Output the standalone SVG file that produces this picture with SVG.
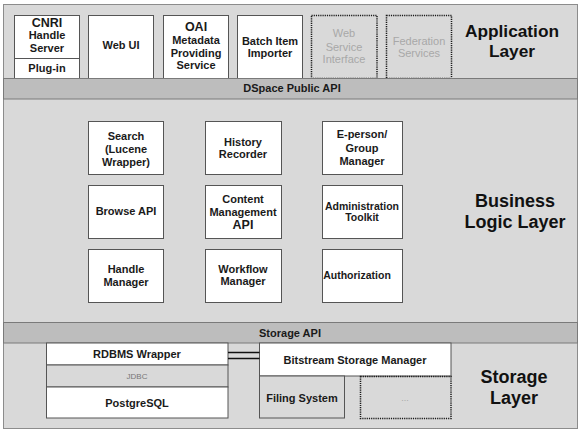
<svg xmlns="http://www.w3.org/2000/svg" width="583" height="435" viewBox="0 0 583 435">
<style>
text{font-family:"Liberation Sans",Arial,sans-serif;font-weight:bold;font-size:11px;fill:#1a1a1a;text-anchor:middle}
.box{fill:#fff;stroke:#555;stroke-width:1}
.gbox{fill:#d9d9d9;stroke:#555;stroke-width:1}
.dash{fill:none;stroke:#1a1a1a;stroke-width:1.5;stroke-dasharray:1.2 1}
.bar{fill:#bdbdbd;stroke:#7a7a7a;stroke-width:1}
.layer{font-size:18px;fill:#111}
.faint{font-weight:normal;fill:#a8a8a8}
.big{font-size:12.5px}
</style>
<rect x="3.5" y="4.5" width="574" height="424" fill="#d9d9d9" stroke="#8c8c8c"/>

<g id="app-layer">
<text class="layer" x="512" y="37" style="font-size:17.3px">Application</text>
<text class="layer" x="512" y="57" style="font-size:17.3px">Layer</text>
</g>
<g id="cnri">
<rect class="box" x="14.5" y="15.5" width="65" height="63"/>
<line x1="14.5" y1="58.5" x2="79.5" y2="58.5" stroke="#555"/>
<text class="big" x="47" y="27">CNRI</text>
<text x="47" y="39">Handle</text>
<text x="47" y="52">Server</text>
<text x="47" y="72">Plug-in</text>
</g>
<g id="webui">
<rect class="box" x="88.5" y="15.5" width="65" height="63"/>
<text x="121" y="49">Web UI</text>
</g>
<g id="oai">
<rect class="box" x="163.5" y="15.5" width="65" height="63"/>
<text class="big" x="196" y="31">OAI</text>
<text x="196" y="44">Metadata</text>
<text x="196" y="57">Providing</text>
<text x="196" y="69">Service</text>
</g>
<g id="batch">
<rect class="box" x="237.5" y="15.5" width="65" height="63"/>
<text x="270" y="45">Batch Item</text>
<text x="270" y="57">Importer</text>
</g>
<g id="webservice">
<rect class="dash" x="311.5" y="15.5" width="65.5" height="63"/>
<text class="faint" x="344" y="37">Web</text>
<text class="faint" x="344" y="51">Service</text>
<text class="faint" x="344" y="63">Interface</text>
</g>
<g id="federation">
<rect class="dash" x="386.5" y="15.5" width="65" height="63"/>
<text class="faint" x="419" y="45">Federation</text>
<text class="faint" x="419" y="57">Services</text>
</g>
<g id="public-api">
<rect class="bar" x="3.5" y="78.5" width="574" height="20.5"/>
<text x="292" y="92">DSpace Public API</text>
</g>

<g id="business-layer">
<text class="layer" x="515" y="207">Business</text>
<text class="layer" x="515" y="228">Logic Layer</text>
</g>
<g id="search">
<rect class="box" x="88.5" y="121.5" width="75" height="53"/>
<text x="126" y="140">Search</text>
<text x="126" y="153">(Lucene</text>
<text x="126" y="166">Wrapper)</text>
</g>
<g id="history">
<rect class="box" x="205.5" y="121.5" width="76" height="53"/>
<text x="243" y="146">History</text>
<text x="243" y="158">Recorder</text>
</g>
<g id="eperson">
<rect class="box" x="322.5" y="121.5" width="80" height="53"/>
<text x="362" y="138">E-person/</text>
<text x="362" y="152">Group</text>
<text x="362" y="165">Manager</text>
</g>
<g id="browse">
<rect class="box" x="88.5" y="185.5" width="75" height="53"/>
<text x="126" y="215">Browse API</text>
</g>
<g id="content">
<rect class="box" x="205.5" y="185.5" width="76" height="53"/>
<text x="243" y="203">Content</text>
<text x="243" y="216">Management</text>
<text class="big" x="243" y="229">API</text>
</g>
<g id="admin">
<rect class="box" x="322.5" y="185.5" width="80" height="53"/>
<text x="362" y="210" style="font-size:10.5px">Administration</text>
<text x="362" y="221" style="font-size:10.5px">Toolkit</text>
</g>
<g id="handle">
<rect class="box" x="88.5" y="249.5" width="75" height="53"/>
<text x="126" y="273">Handle</text>
<text x="126" y="286">Manager</text>
</g>
<g id="workflow">
<rect class="box" x="205.5" y="249.5" width="76" height="53"/>
<text x="243" y="273">Workflow</text>
<text x="243" y="285">Manager</text>
</g>
<g id="authorization">
<rect class="box" x="322.5" y="249.5" width="80" height="53"/>
<text x="357" y="279" style="font-size:10.5px">Authorization</text>
</g>
<g id="storage-api">
<rect class="bar" x="3.5" y="322.5" width="574" height="20.5"/>
<text x="290" y="337">Storage API</text>
</g>

<g id="storage-layer">
<text class="layer" x="514" y="383">Storage</text>
<text class="layer" x="514" y="404">Layer</text>
</g>
<g id="rdbms">
<rect class="box" x="46.5" y="343" width="181.5" height="22"/>
<text x="137" y="358">RDBMS Wrapper</text>
</g>
<g id="jdbc">
<rect class="gbox" x="46.5" y="365" width="181.5" height="22"/>
<text x="137" y="378.5" style="font-weight:normal;font-size:8px;fill:#777">JDBC</text>
</g>
<g id="postgres">
<rect class="box" x="46.5" y="387" width="181.5" height="31"/>
<text x="137" y="407">PostgreSQL</text>
</g>
<g id="bitstream">
<rect class="box" x="259.5" y="343" width="191.5" height="33"/>
<text x="355" y="364">Bitstream Storage Manager</text>
</g>
<g id="filing">
<rect class="gbox" x="259.5" y="376" width="85" height="42"/>
<text x="302" y="402">Filing System</text>
</g>
<g id="other-store">
<rect class="dash" x="360.5" y="376.5" width="90.5" height="42"/>
<text class="faint" x="405" y="401" style="font-size:9px">...</text>
</g>

<g id="connectors">
<line x1="228" y1="352.5" x2="259.5" y2="352.5" stroke="#111" stroke-width="1.5"/>
<line x1="228" y1="358.5" x2="259.5" y2="358.5" stroke="#111" stroke-width="1.5"/>
</g>
</svg>
